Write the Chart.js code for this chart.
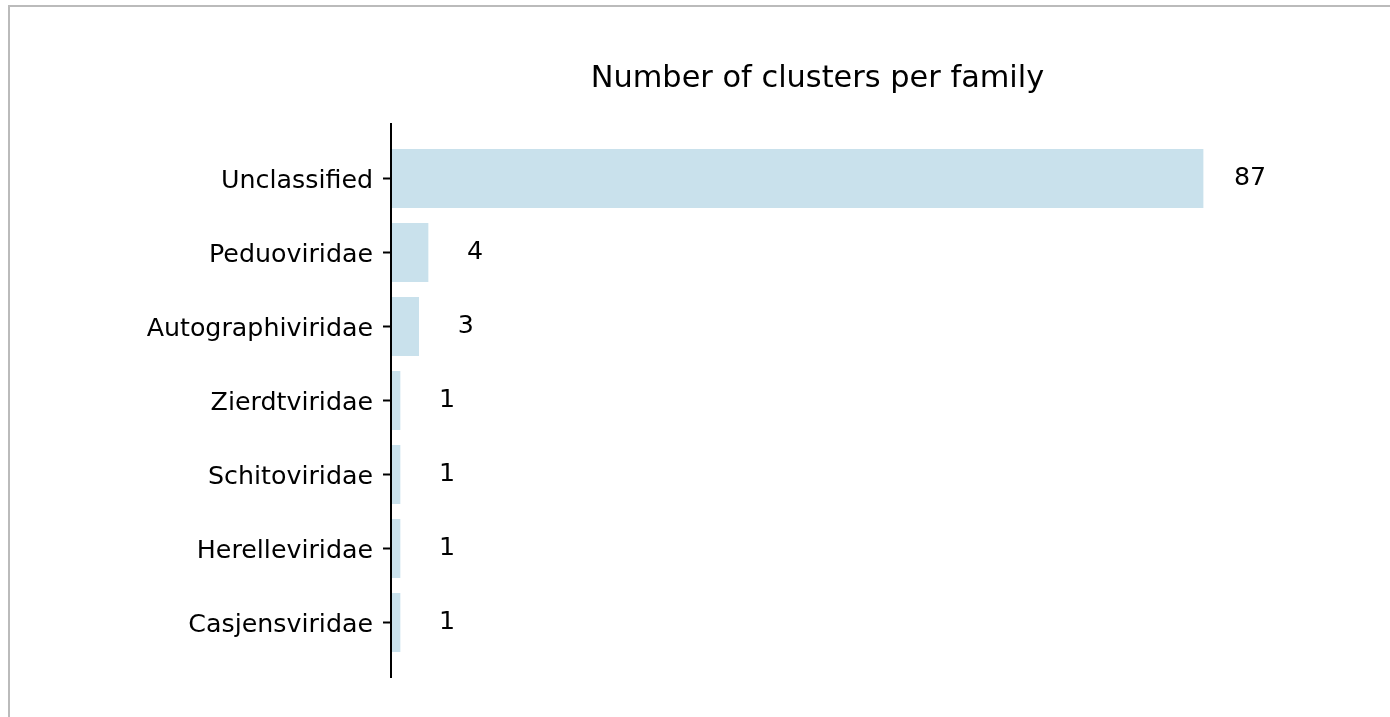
<!DOCTYPE html>
<html>
<head>
<meta charset="utf-8">
<script src="https://cdn.jsdelivr.net/npm/chart.js@4"></script>
<style>
    body { margin: 0; background: #fff; }
    #wrap { position: relative; width: 1390px; height: 717px; overflow: hidden; }
    #frame { position: absolute; left: 8px; top: 5px; width: 1500px; height: 800px; border: 2px solid #bbbbbb; pointer-events: none; }
    canvas { position: absolute; left: 0; top: 0; }
</style>
</head>
<body>
<div id="wrap">
    <canvas id="familyChart" width="1390" height="717"></canvas>
    <div id="frame"></div>
</div>
<script>
// Datos del gráfico
const families = ['Unclassified', 'Peduoviridae', 'Autographiviridae', 'Zierdtviridae', 'Schitoviridae', 'Herelleviridae', 'Casjensviridae'];
const clusterCounts = [87, 4, 3, 1, 1, 1, 1];
const chartTitle = 'Number of clusters per family';

const fontFamily = '"DejaVu Sans", sans-serif';

// Título centrado sobre el área del gráfico (como matplotlib)
const titlePlugin = {
    id: 'axesTitle',
    afterDraw(chart) {
        const area = chart.chartArea;
        const ctx = chart.ctx;
        ctx.save();
        ctx.fillStyle = '#000';
        ctx.font = '30.4px ' + fontFamily;
        ctx.textAlign = 'center';
        ctx.textBaseline = 'alphabetic';
        ctx.fillText(chartTitle, (area.left + area.right) / 2, area.top - 54.5);
        ctx.restore();
    }
};

// Línea del eje Y (más larga que el área, como en matplotlib)
const axisLinePlugin = {
    id: 'axisLine',
    afterDraw(chart) {
        const y = chart.scales.y;
        const x = chart.scales.x;
        const ctx = chart.ctx;
        const x0 = x.getPixelForValue(0);
        ctx.save();
        ctx.strokeStyle = '#000';
        ctx.lineWidth = 2;
        ctx.beginPath();
        ctx.moveTo(x0, y.getPixelForValue(-0.75));
        ctx.lineTo(x0, y.getPixelForValue(families.length - 0.25));
        ctx.stroke();
        ctx.restore();
    }
};

// Etiquetas con los valores a la derecha de cada barra
const valueLabelsPlugin = {
    id: 'valueLabels',
    afterDatasetsDraw(chart) {
        const ctx = chart.ctx;
        const x = chart.scales.x;
        const y = chart.scales.y;
        ctx.save();
        ctx.fillStyle = '#000';
        ctx.font = '25.3px ' + fontFamily;
        ctx.textAlign = 'center';
        ctx.textBaseline = 'middle';
        clusterCounts.forEach((v, i) => {
            ctx.fillText(String(v), x.getPixelForValue(v + 5), y.getPixelForValue(i));
        });
        ctx.restore();
    }
};

const ctx = document.getElementById('familyChart').getContext('2d');
new Chart(ctx, {
    type: 'bar',
    data: {
        labels: families,
        datasets: [{
            data: clusterCounts,
            backgroundColor: 'rgb(201, 225, 236)',
            borderWidth: 0,
            barPercentage: 0.8,
            categoryPercentage: 1.0
        }]
    },
    options: {
        indexAxis: 'y',
        responsive: false,
        animation: false,
        layout: { padding: { left: 0, right: 146, top: 141.5, bottom: 57.5 } },
        plugins: {
            legend: { display: false },
            tooltip: { enabled: false },
            title: { display: false }
        },
        scales: {
            x: { display: false, min: 0, max: 91.35 },
            y: {
                afterFit(scale) { scale.width = 391; },
                border: { display: false },
                grid: {
                    offset: false,
                    drawOnChartArea: false,
                    drawTicks: true,
                    tickLength: 8,
                    tickWidth: 2,
                    tickColor: '#000'
                },
                ticks: {
                    color: '#000',
                    padding: 10,
                    labelOffset: 3,
                    font: { family: fontFamily, size: 25.3 }
                }
            }
        }
    },
    plugins: [titlePlugin, axisLinePlugin, valueLabelsPlugin]
});
</script>
</body>
</html>
